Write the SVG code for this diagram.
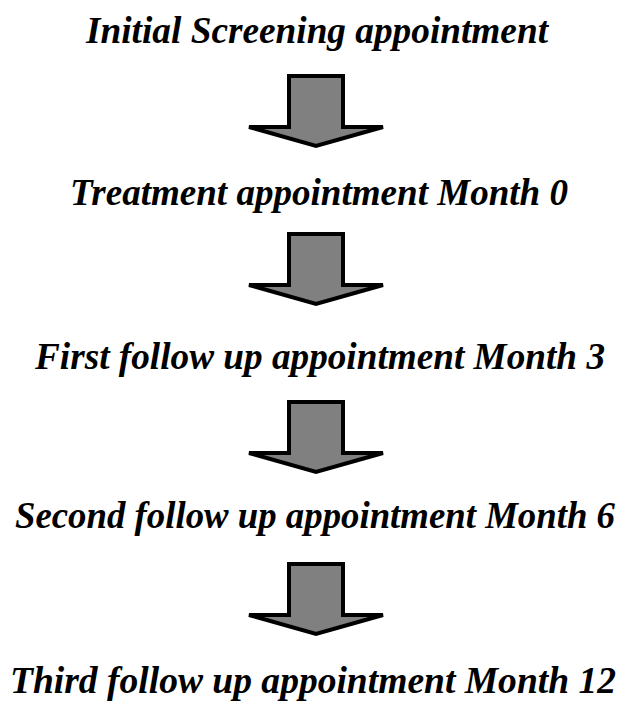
<svg xmlns="http://www.w3.org/2000/svg" width="627" height="702" viewBox="0 0 627 702">
<defs>
<style>
text{font-family:'Liberation Serif','Times New Roman',serif;font-weight:700;font-style:italic;font-size:38px;fill:#000;text-anchor:middle}
.a{fill:#808080;stroke:#000;stroke-width:4;stroke-linejoin:miter}
</style>
<polygon id="arr" class="a" points="289,2 343,2 343,53 383,53 316,72 249,53 289,53"/>
</defs>
<rect width="627" height="702" fill="#fff"/>
<g id="n1"><text x="317" y="43" textLength="462" lengthAdjust="spacingAndGlyphs">Initial Screening appointment</text></g>
<g id="n2"><text x="319" y="205" textLength="498" lengthAdjust="spacingAndGlyphs">Treatment appointment Month 0</text></g>
<g id="n3"><text x="320" y="369" textLength="570" lengthAdjust="spacingAndGlyphs">First follow up appointment Month 3</text></g>
<g id="n4"><text x="315" y="528" style="font-size:37px" textLength="600" lengthAdjust="spacingAndGlyphs">Second follow up appointment Month 6</text></g>
<g id="n5"><text x="313" y="693" textLength="606" lengthAdjust="spacingAndGlyphs">Third follow up appointment Month 12</text></g>
<g id="connectors">
<use href="#arr" y="74"/>
<use href="#arr" y="232"/>
<use href="#arr" y="400"/>
<use href="#arr" y="562"/>
</g>
</svg>
